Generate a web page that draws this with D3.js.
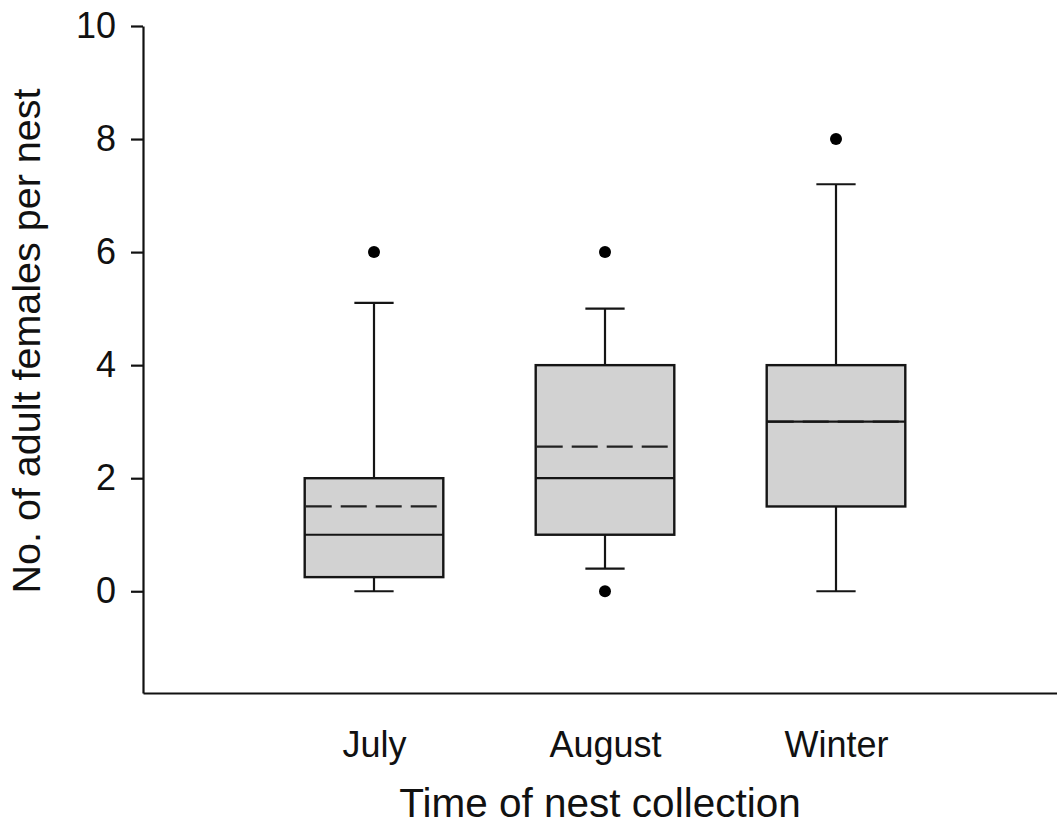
<!DOCTYPE html>
<html>
<head>
<meta charset="utf-8">
<script src="https://d3js.org/d3.v7.min.js"></script>
<style>
  body { margin: 0; background: #fff; }
  svg { display: block; font-family: Arial, "Liberation Sans", Helvetica, sans-serif; }
</style>
</head>
<body>
<div id="chart"></div>
<script>
// values
var months = ["July", "August", "Winter"];
var q1 = [0.25, 1, 1.5];
var medians = [1, 2, 3];
var q3 = [2, 4, 4];
var means = [1.5, 2.56, 3];
var whiskerLow = [0, 0.4, 0];
var whiskerHigh = [5.1, 5, 7.2];
var outliers = [[6], [6, 0], [8]];
var yTicks = [0, 2, 4, 6, 8, 10];

var width = 1057, height = 827;

var svg = d3.select("#chart").append("svg")
  .attr("width", width)
  .attr("height", height);

var x = d3.scaleLinear().domain([0, 4]).range([143, 1067]);
var y = d3.scaleLinear().domain([-1.8, 10]).range([693, 26]);

var boxW = x(0.6) - x(0);
var capW = x(0.17) - x(0);

var data = months.map(function (m, i) {
  return { name: m, pos: i + 1, q1: q1[i], med: medians[i], q3: q3[i], mean: means[i],
    lo: whiskerLow[i], hi: whiskerHigh[i], out: outliers[i] };
});

var stroke = "#151515";

var boxes = svg.append("g").selectAll("g").data(data).enter().append("g");

// whiskers
boxes.append("line")
  .attr("x1", function (d) { return x(d.pos); })
  .attr("x2", function (d) { return x(d.pos); })
  .attr("y1", function (d) { return y(d.hi); })
  .attr("y2", function (d) { return y(d.q3); })
  .attr("stroke", stroke).attr("stroke-width", 2.2);
boxes.append("line")
  .attr("x1", function (d) { return x(d.pos); })
  .attr("x2", function (d) { return x(d.pos); })
  .attr("y1", function (d) { return y(d.q1); })
  .attr("y2", function (d) { return y(d.lo); })
  .attr("stroke", stroke).attr("stroke-width", 2.2);
["hi", "lo"].forEach(function (k) {
  boxes.append("line")
    .attr("x1", function (d) { return x(d.pos) - capW / 2; })
    .attr("x2", function (d) { return x(d.pos) + capW / 2; })
    .attr("y1", function (d) { return y(d[k]); })
    .attr("y2", function (d) { return y(d[k]); })
    .attr("stroke", stroke).attr("stroke-width", 2.2);
});

// box
boxes.append("rect")
  .attr("x", function (d) { return x(d.pos) - boxW / 2; })
  .attr("y", function (d) { return y(d.q3); })
  .attr("width", boxW)
  .attr("height", function (d) { return y(d.q1) - y(d.q3); })
  .attr("fill", "#d2d2d2")
  .attr("stroke", stroke)
  .attr("stroke-width", 2.4);

// mean (dashed) and median
boxes.append("line")
  .attr("x1", function (d) { return x(d.pos) - boxW / 2 + 1; })
  .attr("x2", function (d) { return x(d.pos) + boxW / 2 - 1; })
  .attr("y1", function (d) { return y(d.mean); })
  .attr("y2", function (d) { return y(d.mean); })
  .attr("stroke", "#222").attr("stroke-width", 2.2)
  .attr("stroke-dasharray", "26,9");
boxes.append("line")
  .attr("x1", function (d) { return x(d.pos) - boxW / 2; })
  .attr("x2", function (d) { return x(d.pos) + boxW / 2; })
  .attr("y1", function (d) { return y(d.med); })
  .attr("y2", function (d) { return y(d.med); })
  .attr("stroke", stroke).attr("stroke-width", 2.2);

// outliers
boxes.selectAll("circle")
  .data(function (d) { return d.out.map(function (v) { return { pos: d.pos, v: v }; }); })
  .enter().append("circle")
  .attr("cx", function (d) { return x(d.pos); })
  .attr("cy", function (d) { return y(d.v); })
  .attr("r", 6)
  .attr("fill", "#000");

// axes
var yAxis = svg.append("g")
  .attr("transform", "translate(" + x(0) + ",0)")
  .call(d3.axisLeft(y).tickValues(yTicks).tickSize(12).tickPadding(15).tickSizeOuter(0));
var xAxis = svg.append("g")
  .attr("transform", "translate(0," + y(-1.8) + ")")
  .call(d3.axisBottom(x).tickValues([1, 2, 3]).tickFormat(function (d) { return months[d - 1]; })
    .tickSize(0).tickPadding(38).tickSizeOuter(0));

[yAxis, xAxis].forEach(function (ax) {
  ax.select(".domain").attr("stroke", "#111").attr("stroke-width", 2.2);
  ax.selectAll(".tick line").attr("stroke", "#111").attr("stroke-width", 2.2);
  ax.selectAll("text").attr("font-size", 36).attr("fill", "#111")
    .attr("font-family", "Arial, 'Liberation Sans', sans-serif");
});

// axis titles
svg.append("text")
  .attr("x", 600)
  .attr("y", 817)
  .attr("text-anchor", "middle")
  .attr("font-size", 40.5)
  .attr("fill", "#111")
  .text("Time of nest collection");

svg.append("text")
  .attr("transform", "translate(40,341) rotate(-90)")
  .attr("text-anchor", "middle")
  .attr("font-size", 39.5)
  .attr("fill", "#111")
  .text("No. of adult females per nest");
</script>
</body>
</html>
